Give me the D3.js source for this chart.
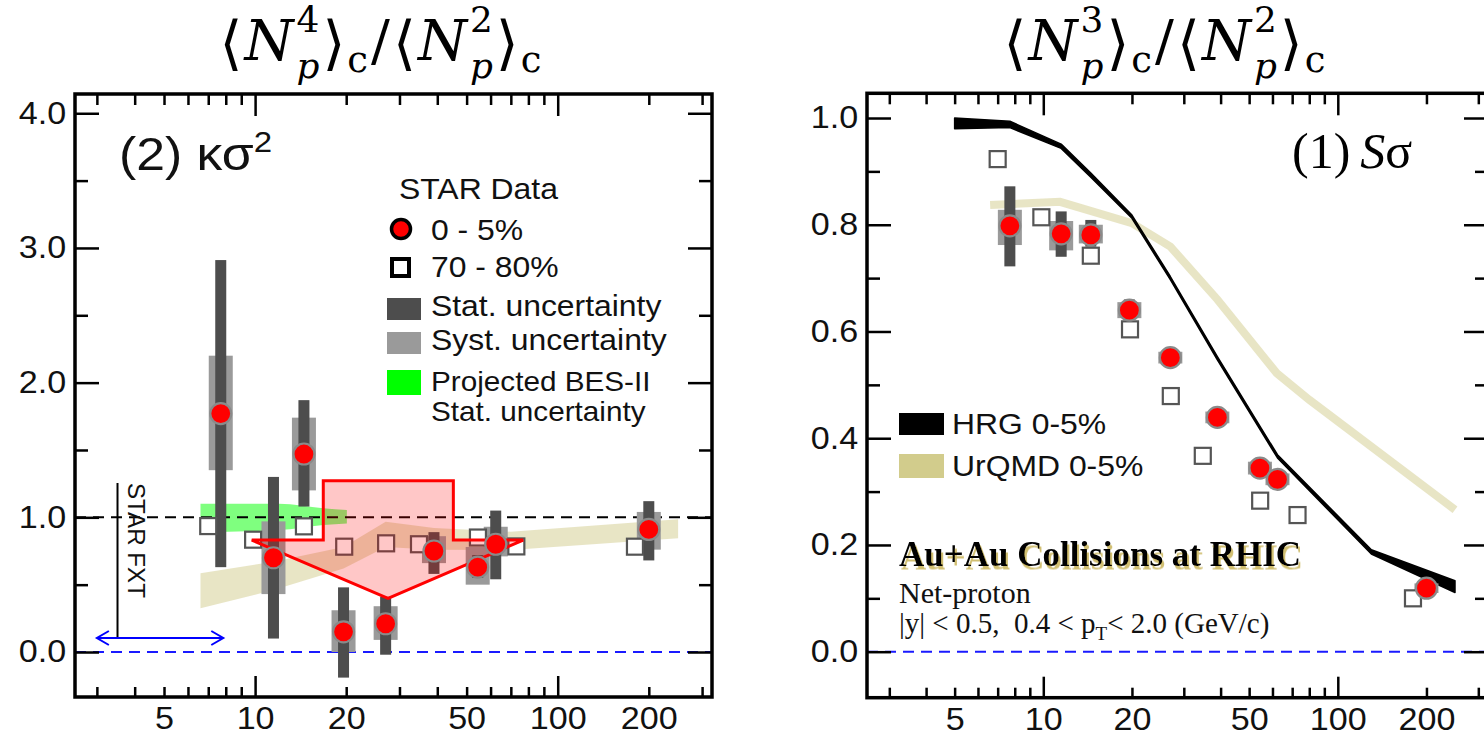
<!DOCTYPE html>
<html>
<head>
<meta charset="utf-8">
<script src="https://cdn.jsdelivr.net/npm/d3@7"></script>
<style>
  html, body { margin: 0; padding: 0; background: #fff; overflow: hidden; }
  svg { display: block; }
</style>
</head>
<body>
<div id="chart"></div>
<script>
// collision energies (GeV) for the 0-5% points, shifted x for the 70-80% squares
const energies = [7.7, 11.5, 14.5, 19.6, 27, 39, 54.4, 62.4, 200];
const periphX = [7.0, 9.85, 14.5, 19.7, 27.1, 34.8, 54.5, 73, 180];

// left panel: kappa sigma^2
const kVal    = [1.77, 0.70, 1.47, 0.15, 0.21, 0.75, 0.63, 0.80, 0.91];
const kStatLo = [0.63, 0.10, 1.08, -0.19, -0.02, 0.58, 0.55, 0.54, 0.68];
const kStatHi = [2.91, 1.30, 1.87, 0.48, 0.41, 0.89, 0.72, 1.05, 1.12];
const kSystLo = [1.35, 0.43, 1.20, 0.00, 0.09, 0.66, 0.50, 0.71, 0.76];
const kSystHi = [2.20, 0.97, 1.74, 0.31, 0.34, 0.86, 0.78, 0.93, 1.04];
const kPeriph = [0.935, 0.834, 0.933, 0.782, 0.807, 0.80, 0.85, 0.784, 0.782];

// projected BES-II band
const besX  = [6.6, 12, 16.8, 20.1];
const besHi = [1.10, 1.10, 1.067, 1.054];
const besLo = [0.89, 0.905, 0.943, 0.955];

// UrQMD band (kappa sigma^2)
const ukX  = [6.6, 11.5, 19.6, 27, 39, 70, 250];
const ukHi = [0.584, 0.67, 0.78, 0.967, 0.92, 0.893, 0.985];
const ukLo = [0.325, 0.46, 0.62, 0.78, 0.76, 0.757, 0.844];

// red arrow annotation
const arrowX = [9.75, 16.8, 16.8, 45.2, 45.2, 76.9, 27.5];
const arrowY = [0.831, 0.831, 1.272, 1.272, 0.831, 0.831, 0.399];

// STAR FXT marker
const fxtLineX = 3.51, fxtLineY = [0.104, 1.255];
const fxtArrowX = [3.0, 7.85], fxtArrowY = 0.104;

// right panel: S sigma
const sVal    = [0.798, 0.783, 0.781, 0.640, 0.551, 0.439, 0.344, 0.323, 0.119];
const sStatLo = [0.722, 0.740, 0.759, 0.625, 0.540, 0.430, 0.335, 0.312, 0.110];
const sStatHi = [0.872, 0.825, 0.809, 0.660, 0.562, 0.449, 0.353, 0.334, 0.128];
const sSystLo = [0.762, 0.752, 0.765, 0.625, 0.540, 0.428, 0.332, 0.312, 0.110];
const sSystHi = [0.828, 0.807, 0.800, 0.655, 0.562, 0.450, 0.356, 0.334, 0.128];
const sPeriph = [0.923, 0.814, 0.742, 0.604, 0.479, 0.367, 0.283, 0.256, 0.100];

// HRG band
const hrgX  = [5, 7.7, 11.5, 14.5, 20, 27, 39, 62.4, 130, 250];
const hrgHi = [1.0, 0.994, 0.951, 0.897, 0.818, 0.703, 0.553, 0.369, 0.191, 0.133];
const hrgLo = [0.98, 0.982, 0.943, 0.889, 0.812, 0.697, 0.547, 0.363, 0.183, 0.111];

// UrQMD line (S sigma)
const usX = [6.6, 11.4, 20, 27, 39, 62, 80, 250];
const usY = [0.837, 0.843, 0.803, 0.759, 0.66, 0.522, 0.472, 0.266];

// axis ticks
const xLabels = [5, 10, 20, 50, 100, 200];
const xMajor = [10, 100];
const xMinor = [3, 4, 5, 6, 7, 8, 9, 20, 30, 40, 50, 60, 70, 80, 90, 200, 300];
const kMajor = [0, 1, 2, 3, 4];
const kMinor = [0.5, 1.5, 2.5, 3.5];
const sMajor = [0, 0.2, 0.4, 0.6, 0.8, 1.0];
const sMinor = [0.1, 0.3, 0.5, 0.7, 0.9];

const SANS = '"Liberation Sans", Arial, sans-serif';
const SERIF = '"Liberation Serif", "Times New Roman", serif';
const MATH = '"DejaVu Serif", serif';
const SX = 1.1; // the original figure is a little stretched sideways

const W = 1484, H = 739;
const svg = d3.select('#chart').append('svg').attr('width', W).attr('height', H);

// golden drop shadow for the collision label
svg.append('defs').append('filter').attr('id', 'gold')
  .attr('x', '-5%').attr('y', '-20%').attr('width', '110%').attr('height', '150%')
  .append('feDropShadow').attr('dx', 2).attr('dy', 3.5).attr('stdDeviation', 0.6)
  .attr('flood-color', '#c9b45a').attr('flood-opacity', 0.85);

function stext(g, x, y, str, size) {
  return g.append('text')
    .attr('transform', `translate(${x},${y}) scale(${SX},1)`)
    .attr('font-family', SANS).attr('font-size', size)
    .attr('fill', '#111').text(str);
}

function drawAxes(x, y, yMajor, yMinor, yFmt) {
  const [x0, x1] = x.range();
  const [yb, yt] = y.range();
  const g = svg.append('g').attr('stroke-width', 2.5);
  const clean = s => s.call(a => a.select('.domain').remove());

  // bottom & top
  g.append('g').attr('transform', `translate(0,${yb})`)
    .call(d3.axisBottom(x).tickValues(xMinor).tickSize(-10).tickFormat('')).call(clean);
  g.append('g').attr('transform', `translate(0,${yb})`)
    .call(d3.axisBottom(x).tickValues(xMajor).tickSize(-21).tickFormat('')).call(clean);
  g.append('g').attr('transform', `translate(0,${yt})`)
    .call(d3.axisTop(x).tickValues(xMinor).tickSize(-11).tickFormat('')).call(clean);
  g.append('g').attr('transform', `translate(0,${yt})`)
    .call(d3.axisTop(x).tickValues(xMajor).tickSize(-22).tickFormat('')).call(clean);
  const xl = g.append('g').attr('transform', `translate(0,${yb})`)
    .call(d3.axisBottom(x).tickValues(xLabels).tickSize(0).tickPadding(10).tickFormat(d3.format('d')))
    .call(clean);
  xl.selectAll('text').attr('font-family', SANS).attr('font-size', 31).attr('fill', '#111')
    .attr('transform', `scale(${SX},1)`);

  // left & right
  const yl = g.append('g').attr('transform', `translate(${x0},0)`)
    .call(d3.axisLeft(y).tickValues(yMajor).tickSize(-24).tickPadding(8).tickFormat(yFmt))
    .call(clean);
  yl.selectAll('text').attr('font-family', SANS).attr('font-size', 31).attr('fill', '#111')
    .attr('transform', `scale(${SX},1)`);
  g.append('g').attr('transform', `translate(${x0},0)`)
    .call(d3.axisLeft(y).tickValues(yMinor).tickSize(-13).tickFormat('')).call(clean);
  g.append('g').attr('transform', `translate(${x1},0)`)
    .call(d3.axisRight(y).tickValues(yMajor).tickSize(-24).tickFormat('')).call(clean);
  g.append('g').attr('transform', `translate(${x1},0)`)
    .call(d3.axisRight(y).tickValues(yMinor).tickSize(-13).tickFormat('')).call(clean);

  g.selectAll('.tick line').attr('stroke', '#000');
}

function drawFrame(x, y) {
  const [x0, x1] = x.range();
  const [yb, yt] = y.range();
  svg.append('rect').attr('x', x0).attr('y', yt).attr('width', x1 - x0).attr('height', yb - yt)
    .attr('fill', 'none').attr('stroke', '#000').attr('stroke-width', 3.5);
}

function drawErrors(x, y, lo, hi, width, color) {
  svg.append('g').selectAll('rect').data(energies).join('rect')
    .attr('x', d => x(d) - width / 2)
    .attr('y', (d, i) => y(hi[i]))
    .attr('width', width)
    .attr('height', (d, i) => y(lo[i]) - y(hi[i]))
    .attr('fill', color);
}

function drawSquares(x, y, vals) {
  svg.append('g').selectAll('rect').data(periphX).join('rect')
    .attr('x', d => x(d) - 8).attr('y', (d, i) => y(vals[i]) - 8)
    .attr('width', 16).attr('height', 16)
    .attr('fill', '#fff').attr('stroke', '#555').attr('stroke-width', 2.2);
}

function drawCircles(x, y, vals) {
  svg.append('g').selectAll('circle').data(energies).join('circle')
    .attr('cx', d => x(d)).attr('cy', (d, i) => y(vals[i]))
    .attr('r', 10.5)
    .attr('fill', '#ff0000').attr('stroke', '#8a8a8a').attr('stroke-width', 2.2);
}

// title like <N_p^4>_c / <N_p^2>_c, one text element with placed tspans
function mathTitle(cx, base, size, pow) {
  const text = svg.append('text').attr('font-family', MATH).attr('fill', '#000');
  let cur = 0;
  const put = (str, o = {}) => {
    const t = text.append('tspan').attr('x', cur).attr('y', o.dy || 0)
      .attr('font-size', o.size || size)
      .attr('font-style', o.it ? 'italic' : 'normal').text(str);
    return t.node().getComputedTextLength();
  };
  const bracket = (ch) => { cur += put(ch, { size: size * 1.05, dy: size * 0.05 }) + 2; };
  const term = (p) => {
    bracket('⟨');
    cur += put('N', { it: true }) + 3;
    const w1 = put(String(p), { size: size * 0.64, dy: -size * 0.5 });
    const w2 = put('p', { size: size * 0.64, it: true, dy: size * 0.33 });
    cur += Math.max(w1, w2) + 3;
    bracket('⟩');
    cur += put('c', { size: size * 0.66, dy: size * 0.22 }) + 3;
  };
  term(pow);
  cur += put('/') + 3;
  term(2);
  text.attr('transform', `translate(${cx - cur / 2},${base})`);
}

// ---------------- left panel ----------------
const xL = d3.scaleLog().domain([2.54, 323.5]).range([75, 712]);
const yL = d3.scaleLinear().domain([-0.334, 4.143]).range([697, 94]);

// UrQMD band
svg.append('path')
  .datum(ukX.map((d, i) => [d, ukLo[i], ukHi[i]]))
  .attr('d', d3.area().x(d => xL(d[0])).y0(d => yL(d[1])).y1(d => yL(d[2])))
  .attr('fill', '#d2cc8c').attr('opacity', 0.5);

// projected BES-II
svg.append('path')
  .datum(besX.map((d, i) => [d, besLo[i], besHi[i]]))
  .attr('d', d3.area().x(d => xL(d[0])).y0(d => yL(d[1])).y1(d => yL(d[2])).curve(d3.curveMonotoneX))
  .attr('fill', '#00ff00').attr('opacity', 0.5);

// reference lines
svg.append('line').attr('x1', xL.range()[0]).attr('x2', xL.range()[1])
  .attr('y1', yL(1)).attr('y2', yL(1))
  .attr('stroke', '#000').attr('stroke-width', 2).attr('stroke-dasharray', '11,7');
svg.append('line').attr('x1', xL.range()[0]).attr('x2', xL.range()[1])
  .attr('y1', yL(0)).attr('y2', yL(0))
  .attr('stroke', '#1a1aff').attr('stroke-width', 2).attr('stroke-dasharray', '11,7');

drawErrors(xL, yL, kSystLo, kSystHi, 24, '#9a9a9a');
drawErrors(xL, yL, kStatLo, kStatHi, 11, '#4d4d4d');
drawSquares(xL, yL, kPeriph);

// red arrow
svg.append('path')
  .datum(arrowX.map((d, i) => [d, arrowY[i]]))
  .attr('d', d => d3.line().x(p => xL(p[0])).y(p => yL(p[1]))(d) + 'Z')
  .attr('fill', 'rgba(255,0,0,0.22)').attr('stroke', '#ff0000').attr('stroke-width', 3)
  .attr('stroke-linejoin', 'miter');

drawCircles(xL, yL, kVal);

// STAR FXT
svg.append('line').attr('x1', xL(fxtLineX)).attr('x2', xL(fxtLineX))
  .attr('y1', yL(fxtLineY[0])).attr('y2', yL(fxtLineY[1]))
  .attr('stroke', '#000').attr('stroke-width', 2);
svg.append('text')
  .attr('transform', `translate(${xL(fxtLineX) + 10},${yL(fxtLineY[1])}) rotate(90) scale(1.05,1)`)
  .attr('font-family', SANS).attr('font-size', 23).attr('fill', '#111').text('STAR FXT');
{
  const ax0 = xL(fxtArrowX[0]), ax1 = xL(fxtArrowX[1]), ay = yL(fxtArrowY);
  const ga = svg.append('g').attr('stroke', '#0000ff').attr('stroke-width', 2).attr('fill', 'none');
  ga.append('line').attr('x1', ax0).attr('x2', ax1).attr('y1', ay).attr('y2', ay);
  ga.append('path').attr('d', `M${ax0 + 12},${ay - 7}L${ax0},${ay}L${ax0 + 12},${ay + 7}`);
  ga.append('path').attr('d', `M${ax1 - 12},${ay - 7}L${ax1},${ay}L${ax1 - 12},${ay + 7}`);
}

drawAxes(xL, yL, kMajor, kMinor, d3.format('.1f'));
drawFrame(xL, yL);

// panel label
{
  const t = svg.append('text')
    .attr('transform', `translate(119,170) scale(${SX},1)`)
    .attr('font-family', SANS).attr('font-size', 47).attr('fill', '#111');
  t.append('tspan').text('(2) κσ');
  t.append('tspan').attr('font-size', 30).attr('dy', -18).text('2');
}

// legend
{
  const lg = svg.append('g');
  stext(lg, 399, 199, 'STAR Data', 29);
  lg.append('circle').attr('cx', 401).attr('cy', 229).attr('r', 9.5)
    .attr('fill', '#ff0000').attr('stroke', '#000').attr('stroke-width', 3.5);
  stext(lg, 431, 240, '0 - 5%', 29);
  lg.append('rect').attr('x', 392).attr('y', 259).attr('width', 17).attr('height', 17)
    .attr('fill', '#fff').attr('stroke', '#000').attr('stroke-width', 4);
  stext(lg, 431, 277, '70 - 80%', 29);
  lg.append('rect').attr('x', 387).attr('y', 298).attr('width', 34).attr('height', 22).attr('fill', '#4d4d4d');
  stext(lg, 431, 316, 'Stat. uncertainty', 29);
  lg.append('rect').attr('x', 387).attr('y', 332).attr('width', 34).attr('height', 22).attr('fill', '#9a9a9a');
  stext(lg, 431, 350, 'Syst. uncertainty', 29);
  lg.append('rect').attr('x', 387).attr('y', 370).attr('width', 34).attr('height', 25).attr('fill', '#00ff00');
  stext(lg, 431, 391, 'Projected BES-II', 27);
  stext(lg, 431, 421, 'Stat. uncertainty', 27);
}

mathTitle(382, 60, 56, 4);

// ---------------- right panel ----------------
const xR = d3.scaleLog().domain([2.52, 323.6]).range([867, 1488]);
const yR = d3.scaleLinear().domain([-0.0862, 1.0463]).range([697.7, 93.3]);

svg.append('path')
  .datum(usX.map((d, i) => [d, usY[i]]))
  .attr('d', d3.line().x(d => xR(d[0])).y(d => yR(d[1])))
  .attr('fill', 'none').attr('stroke', '#d2cc8c').attr('stroke-opacity', 0.5).attr('stroke-width', 8);

svg.append('path')
  .datum(hrgX.map((d, i) => [d, hrgLo[i], hrgHi[i]]))
  .attr('d', d3.area().x(d => xR(d[0])).y0(d => yR(d[1])).y1(d => yR(d[2])))
  .attr('fill', '#000').attr('stroke', '#000').attr('stroke-width', 1.5).attr('stroke-linejoin', 'round');

svg.append('line').attr('x1', xR.range()[0]).attr('x2', xR.range()[1])
  .attr('y1', yR(0)).attr('y2', yR(0))
  .attr('stroke', '#1a1aff').attr('stroke-width', 2).attr('stroke-dasharray', '11,7');

drawErrors(xR, yR, sSystLo, sSystHi, 24, '#9a9a9a');
drawErrors(xR, yR, sStatLo, sStatHi, 11, '#4d4d4d');
drawSquares(xR, yR, sPeriph);
drawCircles(xR, yR, sVal);

drawAxes(xR, yR, sMajor, sMinor, d3.format('.1f'));
drawFrame(xR, yR);

// panel label (1) S sigma
{
  const t = svg.append('text').attr('x', 1292).attr('y', 168)
    .attr('font-family', SERIF).attr('font-size', 50).attr('fill', '#000');
  t.append('tspan').text('(1)\u2009');
  t.append('tspan').attr('font-style', 'italic').text('S');
  t.append('tspan').text('σ');
}

// legend
{
  const lg = svg.append('g');
  lg.append('rect').attr('x', 899).attr('y', 413).attr('width', 45).attr('height', 22).attr('fill', '#000');
  stext(lg, 952, 434, 'HRG 0-5%', 29);
  lg.append('rect').attr('x', 899).attr('y', 454).attr('width', 45).attr('height', 24).attr('fill', '#d2cc8c');
  stext(lg, 952, 476, 'UrQMD 0-5%', 29);
}

// collision text
{
  const g = svg.append('g').attr('font-family', SERIF);
  g.append('text').attr('x', 899).attr('y', 566).attr('font-size', 35).attr('font-weight', 'bold')
    .attr('fill', '#000').attr('filter', 'url(#gold)').text('Au+Au Collisions at RHIC');
  g.append('text').attr('x', 899).attr('y', 603).attr('font-size', 30).attr('fill', '#111').text('Net-proton');
  const t = g.append('text').attr('x', 899).attr('y', 633).attr('font-size', 29).attr('fill', '#111');
  t.append('tspan').text('|y| < 0.5,\u00a0\u00a00.4 < p');
  t.append('tspan').attr('font-size', 19).attr('dy', 7).text('T');
  t.append('tspan').attr('dy', -7).text('< 2.0 (GeV/c)');
}

mathTitle(1166, 60, 56, 3);
</script>
</body>
</html>
